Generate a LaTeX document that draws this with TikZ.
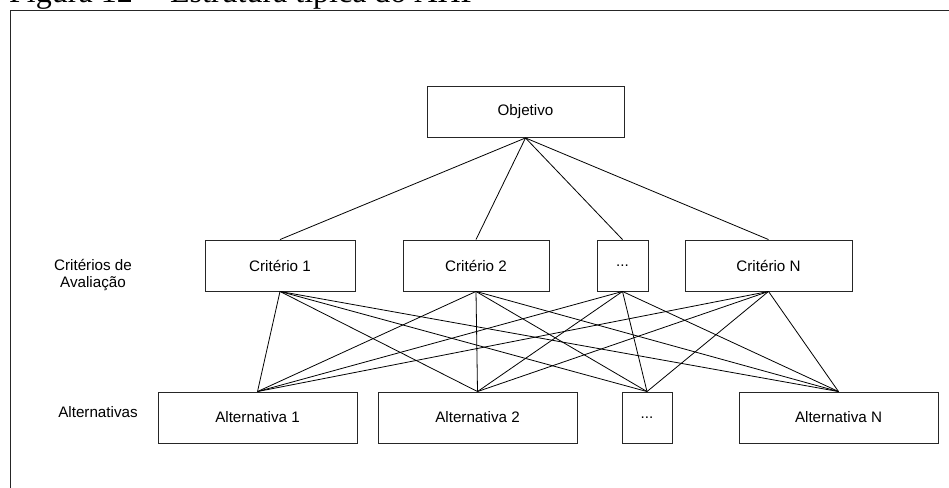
\documentclass[tikz,border=0pt]{standalone}
\usepackage{fontspec}
\setmainfont{Liberation Sans}
\newfontfamily\titlefont{Liberation Serif}
\begin{document}
\begin{tikzpicture}[x=1pt,y=-1pt,
  box/.style={draw=black!85, line width=0.9pt, rectangle, inner sep=0pt,
              minimum height=51pt, font=\fontsize{15.2}{18}\selectfont},
  link/.style={draw=black, line width=0.8pt},
  lbl/.style={font=\fontsize{15.2}{17.5}\selectfont, align=center}]
  \useasboundingbox (0,0) rectangle (949,487);
  \clip (0,0) rectangle (949,487);

  % caption, mostly above the page edge
  \node[anchor=base west, inner sep=0pt, font=\titlefont\fontsize{32}{36}\selectfont]
    (title) at (9,3) {Figura 12 -- Estrutura típica do AHP};

  % outer frame (only top and left edges lie inside the page)
  \draw[line width=1pt, black!85] (10,495) -- (10,11) -- (960,11);

  % goal
  \node[box, minimum width=197pt] (obj) at (525.5,112) {Objetivo};

  % criteria
  \node[box, minimum width=150pt] (c1) at (280,265.5) {Critério 1};
  \node[box, minimum width=146pt] (c2) at (476,265.5) {Critério 2};
  \node[box, minimum width=51pt]  (c3) at (622.5,265.5) {...};
  \node[box, minimum width=167pt] (c4) at (768.5,265.5) {Critério N};

  % alternatives
  \node[box, minimum width=199pt] (a1) at (257.5,417.5) {Alternativa 1};
  \node[box, minimum width=199pt] (a2) at (477.5,417.5) {Alternativa 2};
  \node[box, minimum width=50pt]  (a3) at (647,417.5) {...};
  \node[box, minimum width=199pt] (a4) at (838.5,417.5) {Alternativa N};

  % level labels
  \node[lbl] (lc) at (93,275) {Critérios de\\Avaliação};
  \node[lbl] (la) at (98,412) {Alternativas};

  % goal to criteria
  \foreach \c in {c1,c2,c3,c4}
    \draw[link] (obj.south) -- (\c.north);

  % criteria to alternatives
  \foreach \c in {c1,c2,c3,c4}
    \foreach \a in {a1,a2,a3,a4}
      \draw[link] (\c.south) -- (\a.north);
\end{tikzpicture}
\end{document}
